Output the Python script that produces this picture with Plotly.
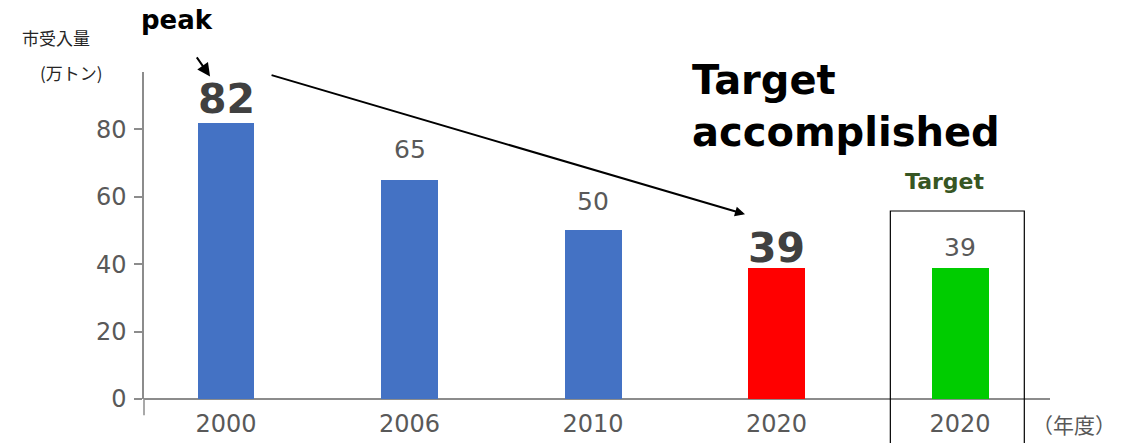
import plotly.graph_objects as go

years = ["2000", "2006", "2010", "2020", "2020"]
values = [82, 65, 50, 39, 39]
y_ticks = [0, 20, 40, 60, 80]

# styling (kept separate from the data)
bar_colors = ["#4472C4", "#4472C4", "#4472C4", "#FF0000", "#00CC00"]
label_bold = [True, False, False, True, False]
label_shift = [-2, 14, 12, -6, 4]

positions = list(range(len(years)))
FONT = "DejaVu Sans"
GRAY = "#595959"

fig = go.Figure()
fig.add_trace(go.Bar(
    x=positions, y=values, width=0.31,
    marker=dict(color=bar_colors, line=dict(width=0)),
    hoverinfo="skip",
))

annotations = []
for x, v, b, s in zip(positions, values, label_bold, label_shift):
    if b:
        annotations.append(dict(x=x, y=v, xref="x", yref="y", text=f"<b>{v}</b>",
                                showarrow=False, yanchor="bottom", yshift=s,
                                font=dict(family=FONT, size=41, color="#404040")))
    else:
        annotations.append(dict(x=x, y=v, xref="x", yref="y", text=str(v),
                                showarrow=False, yanchor="bottom", yshift=s,
                                font=dict(family=FONT, size=25, color=GRAY)))

# arrows
annotations.append(dict(x=-0.087, y=95.7, ax=-0.165, ay=101.8, xref="x", yref="y",
                        axref="x", ayref="y", showarrow=True, arrowhead=2, arrowsize=1.3,
                        arrowwidth=2, arrowcolor="black", text=""))
annotations.append(dict(x=2.828, y=54.8, ax=0.24, ay=96.2, xref="x", yref="y",
                        axref="x", ayref="y", showarrow=True, arrowhead=2, arrowsize=1,
                        arrowwidth=2, arrowcolor="black", text=""))
annotations.append(dict(x=-0.006, y=1.16, xref="paper", yref="paper", xanchor="left", yanchor="middle",
                        text="<b>peak</b>", showarrow=False,
                        font=dict(family=FONT, size=26, color="black")))
annotations.append(dict(x=0.603, y=0.897, xref="paper", yref="paper", xanchor="left", yanchor="middle",
                        text="<b>Target<br>accomplished</b>", showarrow=False, align="left",
                        font=dict(family=FONT, size=40, color="black")))
annotations.append(dict(x=4 - 0.08, y=0.665, xref="x", yref="paper", xanchor="center", yanchor="middle",
                        text="<b>Target</b>", showarrow=False,
                        font=dict(family=FONT, size=22, color="#375623")))
annotations.append(dict(x=-0.137, y=1.104, xref="paper", yref="paper", xanchor="left", yanchor="middle",
                        text="市受入量", showarrow=False,
                        font=dict(family="Noto Sans CJK JP", size=17, color="#262626")))
annotations.append(dict(x=-0.117, y=0.998, xref="paper", yref="paper", xanchor="left", yanchor="middle",
                        text="(万トン)", showarrow=False,
                        font=dict(family="Noto Sans CJK JP", size=17, color="#262626")))
annotations.append(dict(x=0.978, y=-0.075, xref="paper", yref="paper", xanchor="left", yanchor="middle",
                        text="（年度）", showarrow=False,
                        font=dict(family="Noto Sans CJK JP", size=21, color=GRAY)))

shapes = [
    dict(type="line", xref="paper", yref="paper", x0=0, x1=0, y0=0, y1=-0.05,
         line=dict(color="#8c8c8c", width=1.5)),
    dict(type="rect", xref="x", yref="paper", x0=3.62, x1=4.35, y0=-0.2, y1=0.575,
         line=dict(color="black", width=1.2), fillcolor="rgba(0,0,0,0)", layer="above"),
]

fig.update_layout(
    width=1132, height=443,
    margin=dict(l=144, r=82, t=72, b=44),
    paper_bgcolor="white", plot_bgcolor="white",
    showlegend=False, bargap=0,
    annotations=annotations, shapes=shapes,
    xaxis=dict(range=[-0.447, 4.49], tickmode="array", tickvals=positions, ticktext=years,
               showline=False, zeroline=False, showgrid=False, ticks="",
               ticklabelstandoff=8, automargin=False,
               tickfont=dict(family=FONT, size=24, color=GRAY)),
    yaxis=dict(range=[0, 97], tickmode="array", tickvals=y_ticks,
               showline=True, linecolor="#8c8c8c", linewidth=1.5,
               ticks="outside", ticklen=8, tickcolor="#8c8c8c", tickwidth=1.5,
               zeroline=True, zerolinecolor="#8c8c8c", zerolinewidth=1.5,
               showgrid=False, ticklabelstandoff=3, automargin=False,
               tickfont=dict(family=FONT, size=24, color=GRAY)),
)

fig.write_html("out.html")
